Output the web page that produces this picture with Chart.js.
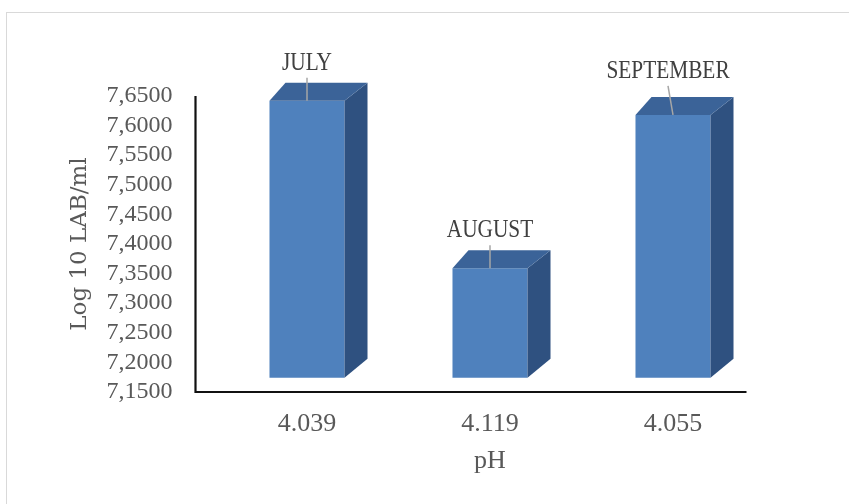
<!DOCTYPE html>
<html><head><meta charset="utf-8">
<script src="https://cdn.jsdelivr.net/npm/chart.js@4"></script>
<style>
html,body{margin:0;padding:0;background:#fff;}
#wrap{position:relative;width:849px;height:504px;overflow:hidden;background:#fff;}
#frame{position:absolute;left:6px;top:12px;width:900px;height:600px;border:1px solid #d9d9d9;}
canvas{position:absolute;left:0;top:0;}
</style></head><body>
<div id="wrap"><div id="frame"></div><canvas id="c" width="849" height="504"></canvas></div>
<script>
// ---- data ----
const phLabels = ['4.039', '4.119', '4.055'];
const months = ['JULY', 'AUGUST', 'SEPTEMBER'];
const logLab = [7.642, 7.359, 7.618];
const yMin = 7.15, yMax = 7.65, yStep = 0.05;
const barFloor = 7.174;

// ---- style ----
const FRONT = '#4f81bd', SIDE = '#2f5180', TOP = '#3b6398';
const DX = 23, DXL = 16, DY = 18;
const AXIS_SHIFT = 20;
const SERIF = '"Liberation Serif", "DejaVu Serif", serif';

const bar3d = {
  id: 'bar3d',
  beforeDatasetsDraw(chart) {
    const ctx = chart.ctx, ca = chart.chartArea, ys = chart.scales.y;
    const ax = ca.left - AXIS_SHIFT;
    ctx.save();
    ctx.strokeStyle = '#111';
    ctx.lineWidth = 2.2;
    ctx.beginPath();
    ctx.moveTo(ax, ys.getPixelForValue(yMax));
    ctx.lineTo(ax, ca.bottom);
    ctx.lineTo(ca.right - AXIS_SHIFT + 2, ca.bottom);
    ctx.stroke();
    ctx.restore();
  },
  afterDatasetsDraw(chart) {
    const ctx = chart.ctx;
    const meta = chart.getDatasetMeta(0);
    meta.data.forEach((bar, i) => {
      const p = bar.getProps(['x', 'y', 'base', 'width'], true);
      const l = p.x - p.width / 2, r = p.x + p.width / 2, t = p.y, b = p.base;
      ctx.save();
      ctx.fillStyle = SIDE;
      ctx.beginPath();
      ctx.moveTo(r, t); ctx.lineTo(r + DX, t - DY); ctx.lineTo(r + DX, b - DY - 1); ctx.lineTo(r, b);
      ctx.closePath(); ctx.fill();
      ctx.fillStyle = TOP;
      ctx.beginPath();
      ctx.moveTo(l, t); ctx.lineTo(l + DXL, t - DY); ctx.lineTo(r + DX, t - DY); ctx.lineTo(r, t);
      ctx.closePath(); ctx.fill();
      // leader line (last label sits slightly left, as in the source)
      const lx = i === months.length - 1 ? p.x - 5 : p.x;
      const lift = i === months.length - 1 ? 37 : 31;
      ctx.strokeStyle = '#a6a6a6';
      ctx.lineWidth = 1.5;
      ctx.beginPath();
      ctx.moveTo(lx, t - lift + 8); ctx.lineTo(p.x, t);
      ctx.stroke();
      // label
      ctx.translate(lx, t - lift);
      ctx.scale(0.82, 1);
      ctx.font = '26px ' + SERIF;
      ctx.fillStyle = '#404040';
      ctx.textAlign = 'center';
      ctx.textBaseline = 'alphabetic';
      ctx.fillText(months[i], 0, 0);
      ctx.restore();
    });
  }
};

new Chart(document.getElementById('c'), {
  type: 'bar',
  data: {
    labels: phLabels,
    datasets: [{
      data: logLab,
      base: barFloor,
      backgroundColor: FRONT,
      borderWidth: 0,
      barPercentage: 0.41,
      categoryPercentage: 1
    }]
  },
  options: {
    responsive: false,
    animation: false,
    devicePixelRatio: 1,
    layout: { padding: { top: 96, right: 84.5, left: 0, bottom: 0 } },
    plugins: { legend: { display: false }, tooltip: { enabled: false } },
    scales: {
      x: {
        grid: { display: false, drawTicks: false },
        border: { display: false },
        ticks: { color: '#595959', font: { family: SERIF, size: 26 }, padding: 17 },
        title: { display: true, text: 'pH', color: '#595959', font: { family: SERIF, size: 26 }, padding: { top: 0, bottom: 27 } },
        afterFit(s) { s.height = 112; }
      },
      y: {
        min: yMin, max: yMax,
        grid: { display: false, drawTicks: false },
        border: { display: false },
        ticks: {
          stepSize: yStep, autoSkip: false, color: '#595959',
          font: { family: SERIF, size: 24 }, padding: 43,
          callback: v => Number(v).toFixed(4).replace('.', ',')
        },
        title: { display: true, text: 'Log 10 LAB/ml', color: '#595959', font: { family: '"DejaVu Serif", serif', size: 23 }, padding: { top: 66, bottom: 0 } },
        afterFit(s) { s.width = 215.5; }
      }
    }
  },
  plugins: [bar3d]
});
</script>
</body></html>
